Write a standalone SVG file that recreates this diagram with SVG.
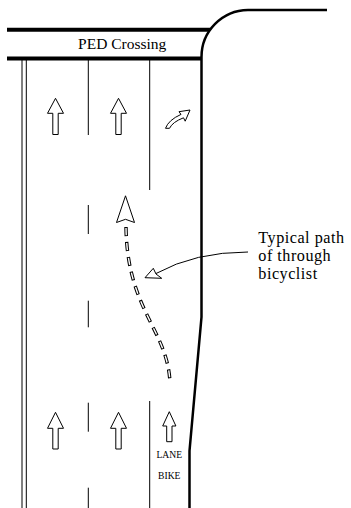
<svg xmlns="http://www.w3.org/2000/svg" width="351" height="508" viewBox="0 0 351 508">
<style>
.bg{fill:#fff}
.bar{stroke:#000;stroke-width:4;fill:none}
.curb{stroke:#000;stroke-width:2.5;fill:none}
.lane{stroke:#000;stroke-width:1;fill:none}
.arrow{fill:#fff;stroke:#000;stroke-width:1;stroke-linejoin:miter}
.lbl{font-family:"Liberation Serif","Times New Roman",serif;fill:#000}
.call{font-size:16.2px;letter-spacing:0.5px}
.dashO{stroke:#000;stroke-width:3.4;fill:none;stroke-dasharray:9 6}
.dashI{stroke:#fff;stroke-width:1.4;fill:none;stroke-dasharray:7 8;stroke-dashoffset:-1}
.lead{stroke:#000;stroke-width:1;fill:none}
</style>
<rect class="bg" x="0" y="0" width="351" height="508"/>
<g id="roadway">
  <line class="bar" x1="7" y1="29.8" x2="210" y2="29.8"/>
  <line class="bar" x1="7" y1="58.6" x2="201" y2="58.6"/>
  <path class="curb" d="M327,10 L248,10 A47,47 0 0 0 201.5,57 L201.5,317 L189.5,451 L189.5,508"/>
  <line class="lane" x1="22" y1="60" x2="22" y2="508"/>
  <line class="lane" x1="26.3" y1="60" x2="26.3" y2="508"/>
</g>
<g id="lane-lines">
  <line class="lane" x1="88.3" y1="60" x2="88.3" y2="135"/>
  <line class="lane" x1="88.3" y1="205" x2="88.3" y2="234"/>
  <line class="lane" x1="88.3" y1="300.7" x2="88.3" y2="327.3"/>
  <line class="lane" x1="88.3" y1="402.7" x2="88.3" y2="431.7"/>
  <line class="lane" x1="88.3" y1="487.7" x2="88.3" y2="508"/>
  <line class="lane" x1="149.7" y1="60" x2="149.7" y2="190"/>
  <line class="lane" x1="149.7" y1="401" x2="149.7" y2="508"/>
</g>
<g id="ped-crossing">
  <text class="lbl" x="122.2" y="49" font-size="15.5" text-anchor="middle">PED Crossing</text>
</g>
<g id="arrow-top-1">
  <polygon class="arrow" points="55.5,98.3 47.5,113.3 52.8,113.3 52.8,134.5 58.2,134.5 58.2,113.3 63.5,113.3"/>
</g>
<g id="arrow-top-2">
  <polygon class="arrow" points="118.5,98.3 110.5,113.3 115.8,113.3 115.8,134.5 121.2,134.5 121.2,113.3 126.5,113.3"/>
</g>
<g id="arrow-right-turn">
  <path class="arrow" d="M190,110 L179,111.7 L181,114.4 Q168.5,120 165.5,128.3 L169.5,128.3 Q172.5,122 183.5,117.8 L185.2,121.2 Z"/>
</g>
<g id="arrow-bottom-1">
  <polygon class="arrow" points="55.5,412.3 47.5,428.3 52.8,428.3 52.8,449 58.2,449 58.2,428.3 63.5,428.3"/>
</g>
<g id="arrow-bottom-2">
  <polygon class="arrow" points="118.5,412.3 110.5,428.3 115.8,428.3 115.8,449 121.2,449 121.2,428.3 126.5,428.3"/>
</g>
<g id="arrow-bike">
  <polygon class="arrow" points="169.3,411.7 162.7,426 166.7,426 166.7,441.7 172,441.7 172,426 175.9,426"/>
  <text class="lbl" x="169.3" y="458" font-size="9.6" text-anchor="middle">LANE</text>
  <text class="lbl" x="169.3" y="479" font-size="9.6" text-anchor="middle">BIKE</text>
</g>
<g id="bicycle-path">
  <path class="dashO" d="M126,227 C127,310 168,330 170,383"/>
  <path class="dashI" d="M126,227 C127,310 168,330 170,383"/>
  <polygon class="arrow" points="125.5,195.8 116.5,222.5 125.5,219.3 134.5,222.5"/>
</g>
<g id="callout">
  <text class="lbl call" x="258.3" y="243">Typical path</text>
  <text class="lbl call" x="258.3" y="261">of through</text>
  <text class="lbl call" x="258.3" y="279">bicyclist</text>
</g>
<g id="connectors">
  <path class="lead" d="M248,252 Q195,252 156,273.5"/>
  <polygon class="arrow" points="145,277.7 153.3,268.3 156,274 161.7,278.3"/>
</g>
</svg>
